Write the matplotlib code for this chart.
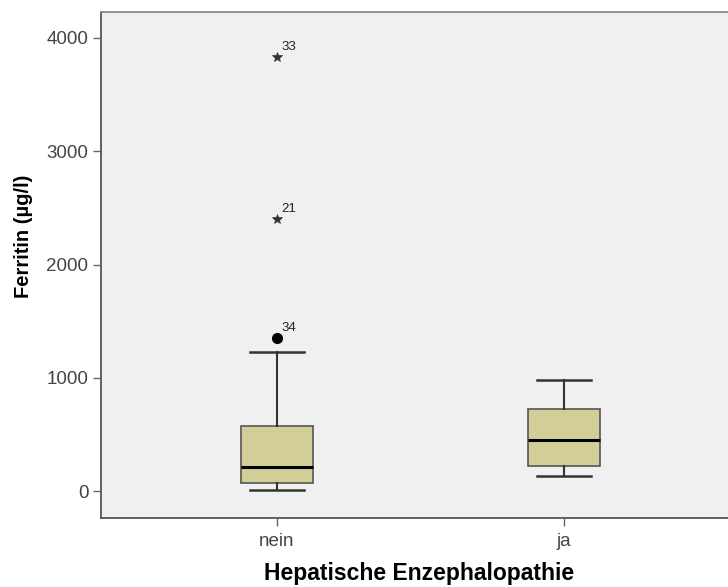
import matplotlib.pyplot as plt

plt.rcParams['font.family'] = ['Liberation Sans', 'DejaVu Sans']

groups = ['nein', 'ja']
whislo = [10, 130]
q1 = [73, 221]
med = [215, 453]
q3 = [571, 724]
whishi = [1227, 983]

# outliers: group index, value, case number, kind
out_group = [0, 0, 0]
out_value = [1348, 2402, 3830]
out_case = ['34', '21', '33']
out_kind = ['circle', 'extreme', 'extreme']

fig = plt.figure(figsize=(7.28, 5.87), dpi=100)
ax = fig.add_axes([0.1387, 0.1175, 0.8613, 0.862])
ax.set_facecolor('#eff0ef')

stats = []
for i, g in enumerate(groups):
    stats.append({'label': g, 'whislo': whislo[i], 'q1': q1[i], 'med': med[i],
                  'q3': q3[i], 'whishi': whishi[i], 'fliers': []})

ax.bxp(stats, positions=range(len(groups)), widths=0.25, patch_artist=True,
       showfliers=False,
       boxprops=dict(facecolor='#d3ce97', edgecolor='#555555', linewidth=1.2),
       medianprops=dict(color='black', linewidth=2.2),
       whiskerprops=dict(color='#333333', linewidth=1.5),
       capprops=dict(color='#333333', linewidth=1.8),
       capwidths=0.19)

for g, v, c, k in zip(out_group, out_value, out_case, out_kind):
    if k == 'circle':
        ax.plot(g, v, 'o', color='black', markersize=7)
    else:
        ax.plot(g, v, '*', color='#333333', markersize=7, markeredgewidth=0.5)
    ax.annotate(c, (g, v), xytext=(3, 5), textcoords='offset points',
                fontsize=9.5, color='#222222')

ax.set_xlim(-0.613, 1.571)
ax.set_ylim(-238, 4229)
ax.set_yticks([0, 1000, 2000, 3000, 4000])
ax.set_xticks(range(len(groups)))
ax.set_xticklabels(groups)
ax.tick_params(axis='both', direction='out', length=6, width=1, colors='#666666',
               labelcolor='#444444', labelsize=13.5, pad=3)
ax.tick_params(axis='x', pad=5)

for s in ['left', 'bottom']:
    ax.spines[s].set_color('#555555')
    ax.spines[s].set_linewidth(1.3)
ax.spines['top'].set_color('#888888')
ax.spines['top'].set_linewidth(1.3)
ax.spines['right'].set_visible(False)

ax.set_ylabel('Ferritin (µg/l)', fontsize=14.5, fontweight='bold')
ax.yaxis.set_label_coords(-0.108, 0.557)
ax.set_xlabel('Hepatische Enzephalopathie', fontsize=16.5, fontweight='bold')
ax.xaxis.set_label_coords(0.507, -0.087)

fig.savefig('out.png', dpi=100)
